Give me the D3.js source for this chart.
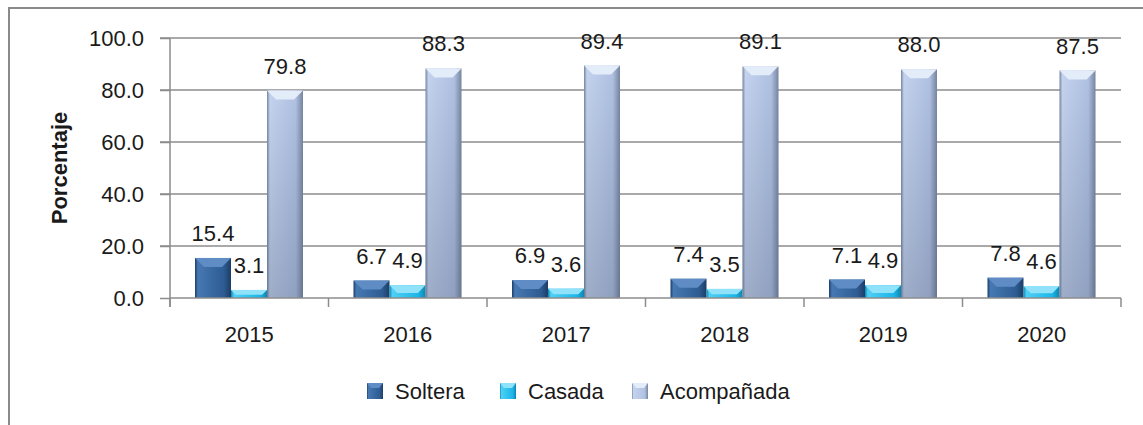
<!DOCTYPE html>
<html lang="es">
<head>
<meta charset="UTF-8">
<script src="https://d3js.org/d3.v7.min.js"></script>
<style>
  body { margin: 0; background: #fff; }
  svg text { font-family: "Liberation Sans", Arial, sans-serif; fill: #1a1a1a; }
</style>
</head>
<body>
<script>
// data
const years = ["2015", "2016", "2017", "2018", "2019", "2020"];
const series = ["Soltera", "Casada", "Acompañada"];
const soltera = [15.4, 6.7, 6.9, 7.4, 7.1, 7.8];
const casada = [3.1, 4.9, 3.6, 3.5, 4.9, 4.6];
const acompanada = [79.8, 88.3, 89.4, 89.1, 88.0, 87.5];
const yTicks = [0, 20, 40, 60, 80, 100];

const values = [soltera, casada, acompanada];

const W = 1143, H = 425;
const plot = {left: 170, right: 1121, top: 38, bottom: 298};

const svg = d3.select("body").append("svg")
    .attr("width", W).attr("height", H);

// colours: [light, mid, dark, bevel]
const pal = {
  "Soltera":    ["#4678b2", "#2d5c92", "#1d3d66", "#5f8cc4"],
  "Casada":     ["#4fd0f5", "#1bb6e8", "#0d86b2", "#8fe2fa"],
  "Acompañada": ["#c4d3ee", "#b0c1e2", "#76859f", "#e3ecf9"]
};

const defs = svg.append("defs");
series.forEach((s, i) => {
  const g = defs.append("linearGradient").attr("id", "g" + i)
      .attr("x1", 0).attr("x2", 1).attr("y1", 0).attr("y2", 0);
  g.append("stop").attr("offset", "0%").attr("stop-color", pal[s][2]);
  g.append("stop").attr("offset", "8%").attr("stop-color", pal[s][0]);
  g.append("stop").attr("offset", "80%").attr("stop-color", pal[s][1]);
  g.append("stop").attr("offset", "100%").attr("stop-color", pal[s][2]);
});
// darkening towards the base
const shade = defs.append("linearGradient").attr("id", "shade")
    .attr("x1", 0).attr("x2", 0).attr("y1", 0).attr("y2", 1);
shade.append("stop").attr("offset", "0%").attr("stop-color", "#3c4a66").attr("stop-opacity", 0);
shade.append("stop").attr("offset", "100%").attr("stop-color", "#3c4a66").attr("stop-opacity", 0.28);

// outer frame (only top and left visible)
svg.append("path")
    .attr("d", `M9,${H} V8 H${W}`)
    .attr("fill", "none").attr("stroke", "#8a8a8a").attr("stroke-width", 2);

const x0 = d3.scaleBand().domain(years).range([plot.left, plot.right]);
const x1 = d3.scaleBand().domain(series).range([25, 133]);
const y = d3.scaleLinear().domain([0, 100]).range([plot.bottom, plot.top]);

// gridlines
svg.append("g").selectAll("line")
  .data(yTicks.filter(d => d > 0)).join("line")
    .attr("x1", plot.left - 10).attr("x2", plot.right)
    .attr("y1", d => y(d)).attr("y2", d => y(d))
    .attr("stroke", "#8c8c8c").attr("stroke-width", 1.5);

// y axis
const yAxis = svg.append("g")
    .attr("transform", `translate(${plot.left},0)`)
    .call(d3.axisLeft(y).tickValues(yTicks).tickFormat(d3.format(".1f")).tickSize(10).tickPadding(16));
yAxis.select(".domain").remove();
yAxis.selectAll("line").attr("stroke", "#8c8c8c").attr("stroke-width", 1.5);
yAxis.selectAll("text").attr("font-size", 22).attr("fill", "#1a1a1a").attr("dy", "0.36em");
svg.append("line")
    .attr("x1", plot.left).attr("x2", plot.left)
    .attr("y1", plot.top).attr("y2", plot.bottom + 9)
    .attr("stroke", "#8c8c8c").attr("stroke-width", 1.5);

// bars
const groups = svg.append("g").selectAll("g")
  .data(years).join("g")
    .attr("transform", d => `translate(${x0(d)},0)`);

const bars = groups.selectAll("g.bar")
  .data((yr, j) => series.map((s, i) => ({s, i, v: values[i][j]})))
  .join("g").attr("class", "bar");

bars.append("rect")
    .attr("x", d => x1(d.s))
    .attr("y", d => y(d.v))
    .attr("width", x1.bandwidth())
    .attr("height", d => y(0) - y(d.v))
    .attr("fill", d => `url(#g${d.i})`);
bars.filter(d => d.i === 2).append("rect")
    .attr("x", d => x1(d.s))
    .attr("y", d => y(d.v))
    .attr("width", x1.bandwidth())
    .attr("height", d => y(0) - y(d.v))
    .attr("fill", "url(#shade)");

// bevelled top
bars.append("path")
    .attr("d", d => {
      const x = x1(d.s), w = x1.bandwidth(), t = y(d.v);
      const b = Math.min(9, (y(0) - t) * 0.6);
      return `M${x},${t} H${x + w} L${x + w - b},${t + b} H${x + b} Z`;
    })
    .attr("fill", d => pal[d.s][3]);

// x axis line and ticks
svg.append("line")
    .attr("x1", plot.left).attr("x2", plot.right)
    .attr("y1", plot.bottom).attr("y2", plot.bottom)
    .attr("stroke", "#8c8c8c").attr("stroke-width", 1.5);
svg.append("g").selectAll("line")
  .data(years.concat(["end"])).join("line")
    .attr("x1", d => d === "end" ? plot.right : x0(d))
    .attr("x2", d => d === "end" ? plot.right : x0(d))
    .attr("y1", plot.bottom).attr("y2", plot.bottom + 9)
    .attr("stroke", "#8c8c8c").attr("stroke-width", 1.5);

svg.append("g").selectAll("text")
  .data(years).join("text")
    .attr("x", d => x0(d) + x0.bandwidth() / 2)
    .attr("y", 342)
    .attr("text-anchor", "middle")
    .attr("font-size", 22)
    .text(d => d);

// value labels
bars.append("text")
    .attr("x", d => x1(d.s) + x1.bandwidth() / 2)
    .attr("y", d => y(d.v) - 17)
    .attr("text-anchor", "middle")
    .attr("font-size", 22)
    .text(d => d3.format(".1f")(d.v));

// y title
svg.append("text")
    .attr("transform", "translate(67,168) rotate(-90)")
    .attr("text-anchor", "middle")
    .attr("font-size", 22)
    .attr("font-weight", "bold")
    .text("Porcentaje");

// legend
const legendX = [367, 500, 632];
const legend = svg.append("g").selectAll("g")
  .data(series).join("g")
    .attr("transform", (d, i) => `translate(${legendX[i]},383)`);
legend.append("rect")
    .attr("width", 16).attr("height", 16)
    .attr("fill", (d, i) => `url(#g${i})`);
legend.append("path")
    .attr("d", "M0,0 H16 L12,5 H4 Z")
    .attr("fill", d => pal[d][3]);
legend.append("text")
    .attr("x", 28).attr("y", 16)
    .attr("font-size", 22)
    .text(d => d);
</script>
</body>
</html>
